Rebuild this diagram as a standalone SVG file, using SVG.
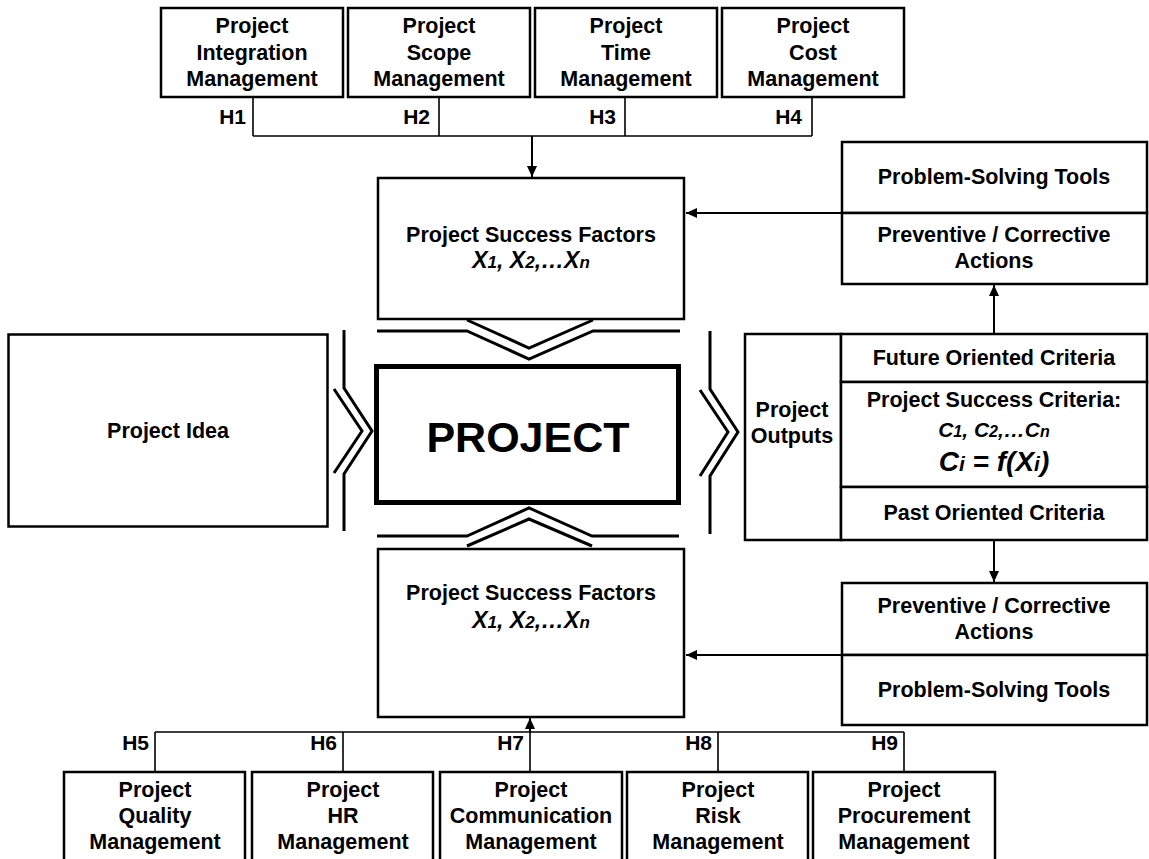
<svg xmlns="http://www.w3.org/2000/svg" width="1149" height="859" viewBox="0 0 1149 859">
<defs>
<style>
.box{fill:#fff;stroke:#000;stroke-width:2.5}
.thick{fill:#fff;stroke:#000;stroke-width:5}
.t{font-family:"Liberation Sans",Arial,sans-serif;font-weight:bold;font-size:21.5px;text-anchor:middle;fill:#000}
.h{font-family:"Liberation Sans",Arial,sans-serif;font-weight:bold;font-size:21px;text-anchor:end;fill:#000}
.it{font-style:italic}
.conn{fill:none;stroke:#000;stroke-width:1.6}
.arr{fill:none;stroke:#000;stroke-width:2;marker-end:url(#ah)}
.chev{fill:none;stroke:#000;stroke-width:3}
</style>
<marker id="ah" markerUnits="userSpaceOnUse" markerWidth="12" markerHeight="10" refX="11" refY="5" orient="auto">
<path d="M0,0 L11,5 L0,10 Z" fill="#000"/>
</marker>
</defs>
<rect width="1149" height="859" fill="#fff"/>

<g id="connectors">
<path class="conn" d="M253,97 V136 M439,97 V136 M625,97 V136 M812,97 V136 M253,136 H812"/>
<line class="arr" x1="532" y1="136" x2="532" y2="177"/>
<path class="conn" d="M155,772 V732 M343,772 V732 M718,772 V732 M904,772 V732 M155,732 H904 M530,772 V732"/>
<line class="arr" x1="530" y1="733" x2="530" y2="718"/>
<line class="arr" x1="842" y1="213" x2="686" y2="213"/>
<line class="arr" x1="842" y1="655" x2="686" y2="655"/>
<line class="arr" x1="994" y1="334" x2="994" y2="285"/>
<line class="arr" x1="994" y1="541" x2="994" y2="582"/>
</g>

<g id="h-labels">
<text class="h" x="246" y="124">H1</text>
<text class="h" x="430" y="124">H2</text>
<text class="h" x="616" y="124">H3</text>
<text class="h" x="802" y="124">H4</text>
<text class="h" x="149" y="750">H5</text>
<text class="h" x="337" y="750">H6</text>
<text class="h" x="524" y="750">H7</text>
<text class="h" x="712" y="750">H8</text>
<text class="h" x="898" y="750">H9</text>
</g>

<g id="top-integration">
<rect class="box" x="161" y="8" width="182" height="89"/>
<text class="t" x="252" y="33">Project</text>
<text class="t" x="252" y="60">Integration</text>
<text class="t" x="252" y="86">Management</text>
</g>
<g id="top-scope">
<rect class="box" x="348" y="8" width="182" height="89"/>
<text class="t" x="439" y="33">Project</text>
<text class="t" x="439" y="60">Scope</text>
<text class="t" x="439" y="86">Management</text>
</g>
<g id="top-time">
<rect class="box" x="535" y="8" width="182" height="89"/>
<text class="t" x="626" y="33">Project</text>
<text class="t" x="626" y="60">Time</text>
<text class="t" x="626" y="86">Management</text>
</g>
<g id="top-cost">
<rect class="box" x="722" y="8" width="182" height="89"/>
<text class="t" x="813" y="33">Project</text>
<text class="t" x="813" y="60">Cost</text>
<text class="t" x="813" y="86">Management</text>
</g>

<g id="psf-top">
<rect class="box" x="378" y="178" width="306" height="141"/>
<text class="t" x="531" y="242">Project Success Factors</text>
<text class="t it" x="531" y="268" style="font-size:23px">X<tspan font-size="17">1</tspan>, X<tspan font-size="17">2</tspan>,…X<tspan font-size="17">n</tspan></text>
</g>

<g id="chevron-top">
<path class="chev" d="M377,331 H467 L529,359 L593,331 H680"/>
<path class="chev" d="M467,320 L529,348 L593,320"/>
</g>

<g id="project">
<rect class="thick" x="376.5" y="366.5" width="302" height="136"/>
<text class="t" x="528" y="452" style="font-size:43px">PROJECT</text>
</g>

<g id="chevron-bottom">
<path class="chev" d="M377,536 H467 L529,508 L592,536 H679"/>
<path class="chev" d="M467,546 L529,519 L592,546"/>
</g>

<g id="psf-bottom">
<rect class="box" x="378" y="549" width="306" height="168"/>
<text class="t" x="531" y="600">Project Success Factors</text>
<text class="t it" x="531" y="628" style="font-size:23px">X<tspan font-size="17">1</tspan>, X<tspan font-size="17">2</tspan>,…X<tspan font-size="17">n</tspan></text>
</g>

<g id="project-idea">
<rect class="box" x="8.5" y="334.5" width="319" height="192"/>
<text class="t" x="168" y="438">Project Idea</text>
</g>

<g id="chevron-left">
<path class="chev" d="M344,330 V388 L372,431 L344,474 V531"/>
<path class="chev" d="M334,389 L362,431 L334,473"/>
</g>

<g id="chevron-right">
<path class="chev" d="M710,331 V389 L738,432 L710,476 V534"/>
<path class="chev" d="M700,390 L728,432 L700,476"/>
</g>

<g id="project-outputs">
<rect class="box" x="745" y="334" width="96" height="206"/>
<text class="t" x="792" y="417">Project</text>
<text class="t" x="792" y="443">Outputs</text>
</g>

<g id="criteria">
<rect class="box" x="841" y="334" width="306" height="48"/>
<text class="t" x="994" y="365">Future Oriented Criteria</text>
<rect class="box" x="841" y="382" width="306" height="105"/>
<text class="t" x="994" y="407">Project Success Criteria:</text>
<text class="t it" x="994" y="437" style="font-size:21px">C<tspan font-size="16">1</tspan>, C<tspan font-size="16">2</tspan>,…C<tspan font-size="16">n</tspan></text>
<text class="t it" x="994" y="471" style="font-size:28px">C<tspan font-size="21">i</tspan> = f(X<tspan font-size="21">i</tspan>)</text>
<rect class="box" x="841" y="487" width="306" height="53"/>
<text class="t" x="994" y="520">Past Oriented Criteria</text>
</g>

<g id="actions-top">
<rect class="box" x="842" y="142" width="305" height="71"/>
<text class="t" x="994" y="184">Problem-Solving Tools</text>
<rect class="box" x="842" y="213" width="305" height="71"/>
<text class="t" x="994" y="242">Preventive / Corrective</text>
<text class="t" x="994" y="268">Actions</text>
</g>

<g id="actions-bottom">
<rect class="box" x="842" y="583" width="305" height="72"/>
<text class="t" x="994" y="613">Preventive / Corrective</text>
<text class="t" x="994" y="639">Actions</text>
<rect class="box" x="842" y="655" width="305" height="70"/>
<text class="t" x="994" y="697">Problem-Solving Tools</text>
</g>

<g id="bottom-quality">
<rect class="box" x="64" y="772" width="181" height="110"/>
<text class="t" x="155" y="797">Project</text>
<text class="t" x="155" y="823">Quality</text>
<text class="t" x="155" y="849">Management</text>
</g>
<g id="bottom-hr">
<rect class="box" x="252" y="772" width="181" height="110"/>
<text class="t" x="343" y="797">Project</text>
<text class="t" x="343" y="823">HR</text>
<text class="t" x="343" y="849">Management</text>
</g>
<g id="bottom-communication">
<rect class="box" x="440" y="772" width="182" height="110"/>
<text class="t" x="531" y="797">Project</text>
<text class="t" x="531" y="823">Communication</text>
<text class="t" x="531" y="849">Management</text>
</g>
<g id="bottom-risk">
<rect class="box" x="627" y="772" width="181" height="110"/>
<text class="t" x="718" y="797">Project</text>
<text class="t" x="718" y="823">Risk</text>
<text class="t" x="718" y="849">Management</text>
</g>
<g id="bottom-procurement">
<rect class="box" x="813" y="772" width="182" height="110"/>
<text class="t" x="904" y="797">Project</text>
<text class="t" x="904" y="823">Procurement</text>
<text class="t" x="904" y="849">Management</text>
</g>
</svg>
